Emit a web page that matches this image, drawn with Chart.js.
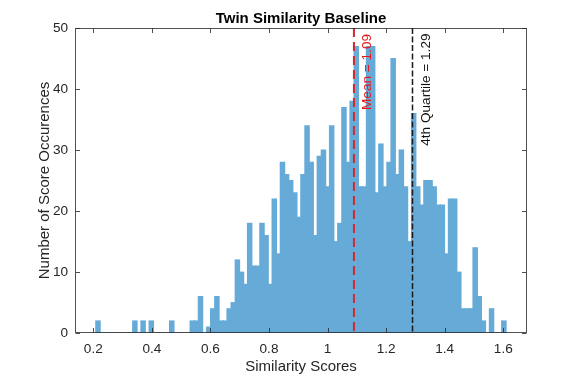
<!DOCTYPE html>
<html><head><meta charset="utf-8">
<script src="https://cdn.jsdelivr.net/npm/chart.js@4.4.1/dist/chart.umd.min.js"></script>
<style>html,body{margin:0;padding:0;background:#fff;} canvas{display:block;}</style>
</head><body>
<canvas id="c" width="582" height="375"></canvas>
<script>
// ---- data ----
const TITLE = 'Twin Similarity Baseline';
const X_LABEL = 'Similarity Scores';
const Y_LABEL = 'Number of Score Occurences';
const BIN_START = 0.209;   // left edge of first histogram bin
const BIN_WIDTH = 0.014;   // histogram bin width
const COUNTS = [
  2,0,0,0,0,0,0,0,0,2,
  0,2,0,2,0,0,0,0,2,0,
  0,0,0,2,2,6,0,1,4,6,
  2,2,4,5,12,10,8,18,11,11,
  18,16,8,22,13,28,26,25,23,19,
  26,34,28,16,29,30,24,34,15,18,
  37,28,38,47,24,24,47,47,23,31,
  24,28,45,26,30,24,15,36,24,21,
  25,25,24,21,21,13,22,22,10,4,
  4,4,14,6,2,0,4,0,0,2
];
const X_TICKS = [0.2, 0.4, 0.6, 0.8, 1, 1.2, 1.4, 1.6];
const X_TICK_LABELS = ['0.2', '0.4', '0.6', '0.8', '1', '1.2', '1.4', '1.6'];
const Y_TICKS = [0, 10, 20, 30, 40, 50];
const Y_TICK_LABELS = ['0', '10', '20', '30', '40', '50'];
const MEAN_VALUE = 1.09;
const MEAN_LABEL = 'Mean = 1.09';
const Q4_VALUE = 1.29;
const Q4_LABEL = '4th Quartile = 1.29';

// ---- chart ----
const FONT = "'Liberation Sans', Arial, Helvetica, sans-serif";
const AXIS_COLOR = '#262626';
const BOX_COLOR = 'rgba(38,38,38,0.8)';

const barData = COUNTS.map((c, i) => ({ x: BIN_START + BIN_WIDTH * (i + 0.5), y: c }));

const overlay = {
  id: 'overlay',
  afterDatasetsDraw(chart) {
    const { ctx, chartArea: a, scales: { x, y } } = chart;
    ctx.save();
    // mean line
    const mx = x.getPixelForValue(MEAN_VALUE);
    ctx.strokeStyle = 'rgb(214,40,44)';
    ctx.lineWidth = 2;
    ctx.setLineDash([9, 5]);
    ctx.beginPath(); ctx.moveTo(mx, a.top); ctx.lineTo(mx, a.bottom); ctx.stroke();
    // quartile line
    const qx = x.getPixelForValue(Q4_VALUE);
    ctx.strokeStyle = '#1a1a1a';
    ctx.lineWidth = 1.5;
    ctx.setLineDash([6, 2.5]);
    ctx.beginPath(); ctx.moveTo(qx, a.top); ctx.lineTo(qx, a.bottom); ctx.stroke();
    ctx.setLineDash([]);
    // annotations
    ctx.font = '13.6px ' + FONT;
    ctx.textAlign = 'right';
    ctx.textBaseline = 'alphabetic';
    ctx.fillStyle = 'rgb(235,20,20)';
    ctx.save(); ctx.translate(mx + 17, a.top + 6); ctx.rotate(-Math.PI / 2); ctx.fillText(MEAN_LABEL, 0, 0); ctx.restore();
    ctx.fillStyle = '#111';
    ctx.save(); ctx.translate(qx + 17.5, a.top + 5.5); ctx.rotate(-Math.PI / 2); ctx.fillText(Q4_LABEL, 0, 0); ctx.restore();

    // box
    ctx.strokeStyle = BOX_COLOR;
    ctx.lineWidth = 1;
    const L = Math.round(a.left) + 0.5, R = Math.round(a.right) - 0.5, T = Math.round(a.top) + 0.5, B = Math.round(a.bottom) - 0.5;
    ctx.strokeRect(L, T, R - L, B - T);
    // inward ticks, mirrored on all four sides
    const TL = 4.5;
    ctx.beginPath();
    X_TICKS.forEach(v => {
      const px = Math.round(x.getPixelForValue(v)) + 0.5;
      ctx.moveTo(px, B); ctx.lineTo(px, B - TL);
      ctx.moveTo(px, T); ctx.lineTo(px, T + TL);
    });
    Y_TICKS.forEach(v => {
      const py = Math.round(y.getPixelForValue(v)) + 0.5;
      ctx.moveTo(L, py); ctx.lineTo(L + TL, py);
      ctx.moveTo(R, py); ctx.lineTo(R - TL, py);
    });
    ctx.stroke();

    // title and axis titles
    ctx.fillStyle = '#000';
    ctx.textAlign = 'center';
    ctx.textBaseline = 'alphabetic';
    ctx.font = 'bold 15px ' + FONT;
    const cx = (a.left + a.right) / 2;
    ctx.fillText(TITLE, cx, 23);
    ctx.fillStyle = AXIS_COLOR;
    ctx.font = '15px ' + FONT;
    ctx.fillText(X_LABEL, cx, 370.5);
    ctx.save();
    ctx.translate(48.5, (a.top + a.bottom) / 2);
    ctx.rotate(-Math.PI / 2);
    ctx.fillText(Y_LABEL, 0, 0);
    ctx.restore();
    ctx.restore();
  }
};

new Chart(document.getElementById('c'), {
  type: 'bar',
  data: {
    datasets: [{
      data: barData,
      backgroundColor: '#66AAD7',
      borderWidth: 0,
      inflateAmount: 0.4,
      barPercentage: 1.15,
      categoryPercentage: 1
    }]
  },
  options: {
    responsive: false,
    animation: false,
    devicePixelRatio: 1,
    layout: { padding: { left: 0, right: 55, top: 28, bottom: 0 } },
    plugins: { legend: { display: false }, tooltip: { enabled: false }, title: { display: false } },
    scales: {
      x: {
        type: 'linear',
        min: 0.1375,
        max: 1.681,
        offset: false,
        grid: { display: false, drawTicks: false },
        border: { display: false },
        afterBuildTicks: s => { s.ticks = X_TICKS.map(v => ({ value: v })); },
        afterFit: s => { s.height = 42; },
        ticks: {
          autoSkip: false,
          maxRotation: 0,
          padding: 8,
          color: AXIS_COLOR,
          font: { family: FONT, size: 13.6 },
          callback: v => X_TICK_LABELS[X_TICKS.indexOf(v)]
        }
      },
      y: {
        min: 0,
        max: 50,
        grid: { display: false, drawTicks: false },
        border: { display: false },
        afterBuildTicks: s => { s.ticks = Y_TICKS.map(v => ({ value: v })); },
        afterFit: s => { s.width = 75; },
        ticks: {
          padding: 7,
          color: AXIS_COLOR,
          font: { family: FONT, size: 13.6 },
          callback: v => Y_TICK_LABELS[Y_TICKS.indexOf(v)]
        }
      }
    }
  },
  plugins: [overlay]
});
</script>
</body></html>
